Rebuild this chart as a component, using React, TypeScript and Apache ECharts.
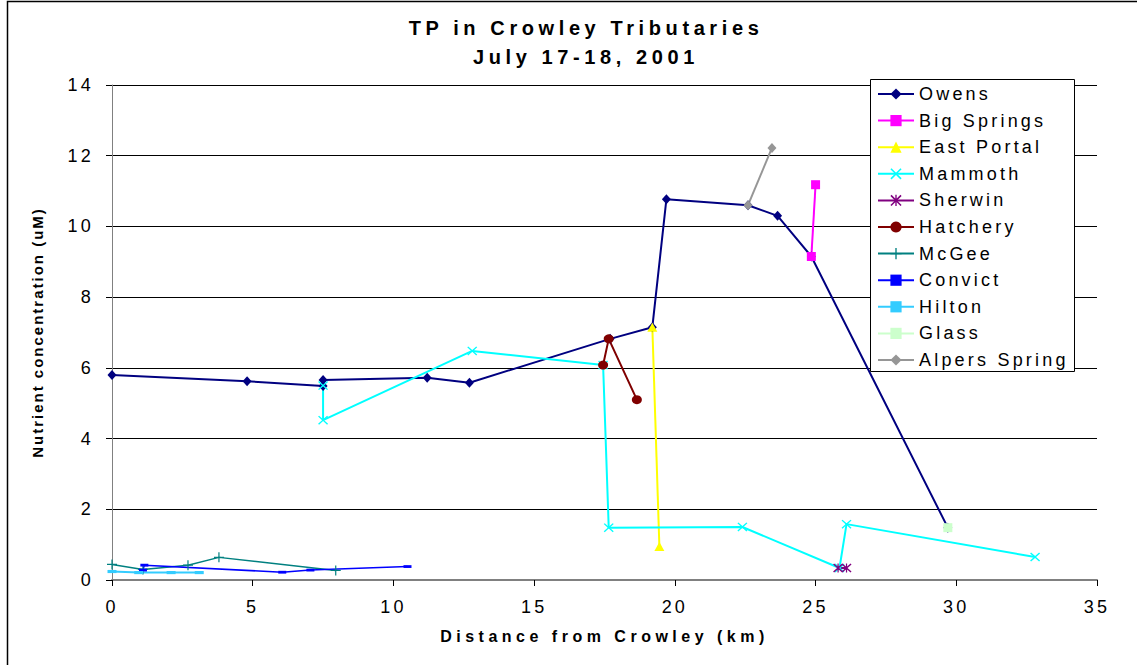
import React, { useEffect, useRef } from 'react';
import * as echarts from 'echarts';

const titleLine1 = 'TP in Crowley Tributaries';
const titleLine2 = 'July 17-18, 2001';
const xAxisName = 'Distance from Crowley (km)';
const yAxisName = 'Nutrient concentration (uM)';

const owensX = [0, 4.8, 7.5, 7.5, 11.2, 12.7, 17.7, 19.2, 19.7, 22.6, 23.65, 24.85, 29.7];
const owensY = [5.8, 5.62, 5.49, 5.66, 5.72, 5.58, 6.82, 7.15, 10.77, 10.6, 10.3, 9.15, 1.48];
const bigSpringsX = [24.85, 25.0];
const bigSpringsY = [9.15, 11.18];
const eastPortalX = [19.2, 19.45];
const eastPortalY = [7.15, 0.95];
const mammothX = [7.5, 7.5, 12.8, 17.45, 17.65, 22.4, 25.85, 26.1, 32.8];
const mammothY = [5.5, 4.52, 6.48, 6.08, 1.48, 1.5, 0.34, 1.58, 0.65];
const sherwinX = [25.8, 26.1];
const sherwinY = [0.34, 0.34];
const hatcheryX = [17.45, 17.65, 18.65];
const hatcheryY = [6.08, 6.82, 5.1];
const mcgeeX = [0, 1.1, 2.7, 3.8, 7.95];
const mcgeeY = [0.44, 0.3, 0.42, 0.64, 0.27];
const convictX = [1.1, 1.15, 6.05, 7.05, 10.5];
const convictY = [0.28, 0.42, 0.22, 0.28, 0.38];
const hiltonX = [0, 0.95, 2.1, 3.1];
const hiltonY = [0.24, 0.21, 0.21, 0.21];
const glassX = [29.7];
const glassY = [1.48];
const alpersX = [22.6, 23.45];
const alpersY = [10.6, 12.22];

const X_SYM = 'path://M0,1 L1,0 L5,4 L9,0 L10,1 L6,5 L10,9 L9,10 L5,6 L1,10 L0,9 L4,5 Z';
const AST_SYM = 'path://M0,1 L1,0 L5,4 L9,0 L10,1 L6,5 L10,9 L9,10 L5,6 L1,10 L0,9 L4,5 Z M4.4,0 L5.6,0 L5.6,10 L4.4,10 Z';
const PLUS_SYM = 'path://M4.4,0 L5.6,0 L5.6,4.4 L10,4.4 L10,5.6 L5.6,5.6 L5.6,10 L4.4,10 L4.4,5.6 L0,5.6 L0,4.4 L4.4,4.4 Z';
const DASH_SYM = 'path://M0,0 L10,0 L10,3.5 L0,3.5 Z';

const zip = (xs: number[], ys: number[]) => xs.map((x, i) => [x, ys[i]]);

const seriesDefs = [
  { name: 'Owens', x: owensX, y: owensY, color: '#000080', symbol: 'diamond', size: [9, 10], width: 2 },
  { name: 'Big Springs', x: bigSpringsX, y: bigSpringsY, color: '#FF00FF', symbol: 'rect', size: [9, 9], width: 2 },
  { name: 'East Portal', x: eastPortalX, y: eastPortalY, color: '#FFFF00', symbol: 'triangle', size: [10, 9], width: 2 },
  { name: 'Mammoth', x: mammothX, y: mammothY, color: '#00FFFF', symbol: X_SYM, size: [10, 9], width: 2 },
  { name: 'Sherwin', x: sherwinX, y: sherwinY, color: '#800080', symbol: AST_SYM, size: [10, 9], width: 2 },
  { name: 'Hatchery', x: hatcheryX, y: hatcheryY, color: '#800000', symbol: 'circle', size: [10, 9], width: 2 },
  { name: 'McGee', x: mcgeeX, y: mcgeeY, color: '#008080', symbol: PLUS_SYM, size: [10, 10], width: 1.5 },
  { name: 'Convict', x: convictX, y: convictY, color: '#0000FF', symbol: DASH_SYM, size: [8, 8], width: 1.5 },
  { name: 'Hilton', x: hiltonX, y: hiltonY, color: '#33CCFF', symbol: DASH_SYM, size: [9, 9], width: 2 },
  { name: 'Glass', x: glassX, y: glassY, color: '#CCFFCC', symbol: 'rect', size: [9, 9], width: 2 },
  { name: 'Alpers Spring', x: alpersX, y: alpersY, color: '#969696', symbol: 'diamond', size: [9, 10], width: 2 },
];

const FONT = '"Liberation Sans", Arial, sans-serif';

export default function App() {
  const ref = useRef<HTMLDivElement>(null);
  useEffect(() => {
    const chart = echarts.init(ref.current!, null, { renderer: 'svg' });
    const option: any = {
      animation: false,
      backgroundColor: '#fff',
      textStyle: { fontFamily: FONT },
      grid: { left: 112, right: 40, top: 85, bottom: 85 },
      xAxis: {
        type: 'value', min: 0, max: 35, interval: 5,
        name: xAxisName, nameLocation: 'middle', nameGap: 48,
        nameTextStyle: { fontSize: 16, fontWeight: 'bold', color: '#000', fontFamily: FONT },
        axisLine: { show: true, lineStyle: { color: '#808080', width: 2 } },
        axisTick: { show: true, length: 6, lineStyle: { color: '#000' } },
        axisLabel: { fontSize: 18, color: '#000', margin: 18, fontFamily: FONT },
        splitLine: { show: false },
      },
      yAxis: {
        type: 'value', min: 0, max: 14, interval: 2,
        name: yAxisName, nameLocation: 'middle', nameGap: 67, nameRotate: 90,
        nameTextStyle: { fontSize: 15, fontWeight: 'bold', color: '#000', fontFamily: FONT },
        axisLine: { show: true, lineStyle: { color: '#808080', width: 1 } },
        axisTick: { show: true, length: 6, lineStyle: { color: '#000' } },
        axisLabel: { fontSize: 18, color: '#000', margin: 18, fontFamily: FONT },
        splitLine: { show: true, lineStyle: { color: '#000', width: 1 } },
      },
      legend: {
        orient: 'vertical', left: 870, top: 79, padding: [6, 5, 5, 7],
        itemWidth: 36, itemHeight: 14, itemGap: 8.6,
        selectedMode: false, z: 10, symbolKeepAspect: true,
        textStyle: { fontSize: 18, color: '#000', fontFamily: FONT },
        data: seriesDefs.map((s) => s.name),
      },
      graphic: [
        { type: 'rect', z: 5, shape: { x: 7.5, y: 1.5, width: 1140, height: 680 }, style: { fill: 'none', stroke: '#000', lineWidth: 1.5 } },
        { type: 'rect', z: 8, shape: { x: 870.5, y: 79.5, width: 204, height: 292 }, style: { fill: '#fff', stroke: '#000', lineWidth: 1 } },
        { type: 'text', z: 8, x: 586, y: 28, style: { text: titleLine1, font: 'bold 20px ' + FONT, fill: '#000', align: 'center', verticalAlign: 'middle' } },
        { type: 'text', z: 8, x: 586, y: 57, style: { text: titleLine2, font: 'bold 20px ' + FONT, fill: '#000', align: 'center', verticalAlign: 'middle' } },
      ],
      series: seriesDefs.map((s) => ({
        name: s.name, type: 'line', data: zip(s.x, s.y),
        symbol: s.symbol, symbolSize: s.size, symbolKeepAspect: true, showAllSymbol: true,
        lineStyle: { color: s.color, width: s.width },
        itemStyle: { color: s.color, borderWidth: 0 },
        emphasis: { disabled: true },
      })),
    };
    chart.setOption(option);
    return () => chart.dispose();
  }, []);
  return (
    <div style={{ position: 'fixed', left: 0, top: 0, width: 1137, height: 665 }}>
      <style>{`.chartbox text { letter-spacing: 3.2px; }
.chartbox text[style*="20px"] { letter-spacing: 4.6px; }
.chartbox text[style*="16px"] { letter-spacing: 4.5px; }
.chartbox text[style*="15px"] { letter-spacing: 2px; }`}</style>
      <div ref={ref} className="chartbox" style={{ width: 1137, height: 665 }} />
    </div>
  );
}
